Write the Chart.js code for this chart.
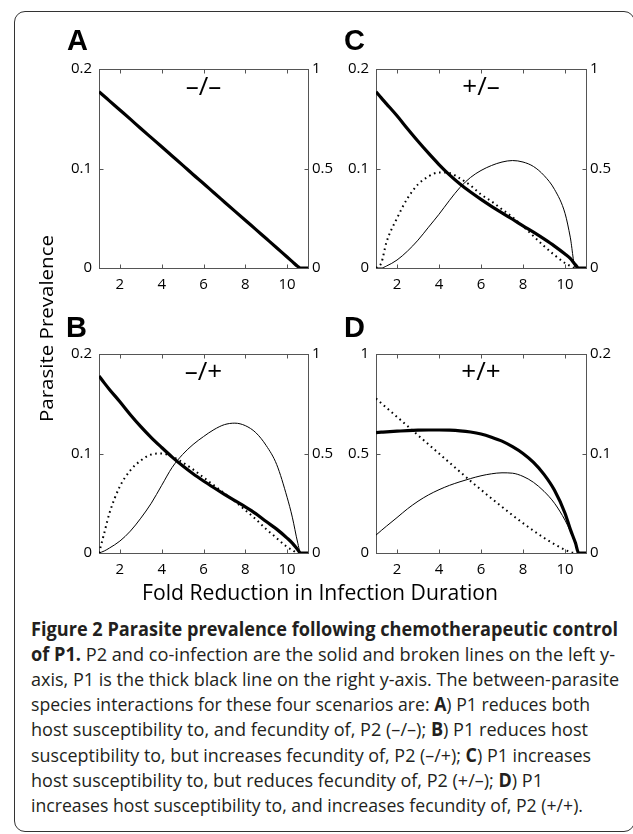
<!DOCTYPE html>
<html><head><meta charset="utf-8">
<script src="https://cdn.jsdelivr.net/npm/chart.js@4.4.1/dist/chart.umd.min.js"></script>
<style>
html,body{margin:0;padding:0;background:#fff;width:633px;height:834px;overflow:hidden;}
#page{position:relative;width:633px;height:834px;overflow:hidden;background:#fff;}
canvas{position:absolute;}
.frame{position:absolute;left:14px;top:11px;width:621px;height:821px;border:1.3px solid #333;border-radius:11px;box-sizing:border-box;}
.letter{position:absolute;font-family:"Liberation Sans",Arial,sans-serif;font-weight:bold;font-size:29px;line-height:29px;color:#000;}
.fit{position:absolute;white-space:nowrap;transform-origin:0 0;font-family:"Open Sans",sans-serif;color:#231f20;}
.cap{font-size:19px;line-height:25px;left:31px;}
b{font-weight:700;}
</style></head>
<body>
<div id="page">
  <div class="frame"></div>
  <canvas id="cA" width="309" height="245" style="left:49px;top:53px"></canvas>
  <canvas id="cC" width="310" height="245" style="left:326px;top:53px"></canvas>
  <canvas id="cB" width="309" height="245" style="left:49px;top:338px"></canvas>
  <canvas id="cD" width="310" height="245" style="left:326px;top:338px"></canvas>
  <div class="letter" style="left:67px;top:26px">A</div>
  <div class="letter" style="left:344px;top:26px">C</div>
  <div class="letter" style="left:66px;top:313px">B</div>
  <div class="letter" style="left:344px;top:313px">D</div>
  <div id="ytitle" class="fit" style="left:0;top:0;font-size:19px;line-height:19px;color:#000">Parasite Prevalence</div>
  <div id="xtitle" class="fit" style="left:142px;top:582px;font-size:21px;line-height:21px;color:#000">Fold Reduction in Infection Duration</div>
  <div class="fit cap" data-w="587"><b>Figure 2 Parasite prevalence following chemotherapeutic control</b></div>
  <div class="fit cap" data-w="584"><b>of P1.</b> P2 and co-infection are the solid and broken lines on the left y-</div>
  <div class="fit cap" data-w="588">axis, P1 is the thick black line on the right y-axis. The between-parasite</div>
  <div class="fit cap" data-w="559">species interactions for these four scenarios are: <b>A</b>) P1 reduces both</div>
  <div class="fit cap" data-w="557">host susceptibility to, and fecundity of, P2 (–/–); <b>B</b>) P1 reduces host</div>
  <div class="fit cap" data-w="560">susceptibility to, but increases fecundity of, P2 (–/+); <b>C</b>) P1 increases</div>
  <div class="fit cap" data-w="512">host susceptibility to, but reduces fecundity of, P2 (+/–); <b>D</b>) P1</div>
  <div class="fit cap" data-w="552">increases host susceptibility to, and increases fecundity of, P2 (+/+).</div>
</div>
<script>
// Fold reduction in infection duration (x)
const xValues = [1, 1.25, 1.5, 2, 2.5, 3, 3.5, 4, 4.5, 5, 5.5, 6, 6.5, 7, 7.5, 8, 8.5, 9, 9.5, 10, 10.25, 10.5, 10.65, 11];
const xTickValues = [2, 4, 6, 8, 10];
const ticksSmall = [0, 0.1, 0.2];
const ticksLarge = [0, 0.5, 1];
const panelTitles = {A: '–/–', B: '–/+', C: '+/–', D: '+/+'};

// Panel A (-/-): P1 on right axis (0-1)
const A_P1 = [0.886, 0.863, 0.840, 0.794, 0.748, 0.701, 0.655, 0.609, 0.563, 0.517, 0.470, 0.425, 0.378, 0.332, 0.286, 0.240, 0.194, 0.148, 0.102, 0.055, 0.032, 0.009, 0, 0];

// Panel B (-/+): P2, co-infection on left axis (0-0.2), P1 on right axis (0-1)
const B_P1 = [0.89, 0.855, 0.822, 0.76, 0.695, 0.635, 0.58, 0.53, 0.482, 0.438, 0.398, 0.362, 0.328, 0.295, 0.263, 0.232, 0.198, 0.158, 0.12, 0.075, 0.05, 0.018, 0, 0];
const B_P2 = [0, 0.002, 0.005, 0.012, 0.022, 0.035, 0.05, 0.068, 0.086, 0.099, 0.109, 0.117, 0.124, 0.129, 0.1305, 0.128, 0.121, 0.108, 0.089, 0.056, 0.036, 0.011, 0, 0];
const B_CO = [0, 0.02, 0.04, 0.067, 0.083, 0.093, 0.099, 0.1, 0.097, 0.091, 0.084, 0.076, 0.068, 0.06, 0.052, 0.043, 0.034, 0.024, 0.015, 0.006, 0.003, 0, 0, 0];

// Panel C (+/-)
const C_P1 = [0.886, 0.855, 0.825, 0.765, 0.70, 0.637, 0.577, 0.52, 0.468, 0.422, 0.382, 0.345, 0.31, 0.277, 0.245, 0.212, 0.18, 0.146, 0.11, 0.07, 0.048, 0.016, 0, 0];
const C_P2 = [0, 0, 0.002, 0.008, 0.017, 0.028, 0.041, 0.054, 0.068, 0.081, 0.091, 0.098, 0.103, 0.1065, 0.108, 0.1065, 0.102, 0.093, 0.079, 0.055, 0.031, 0, 0, 0];
const C_CO = [0, 0.005, 0.026, 0.05, 0.07, 0.084, 0.092, 0.096, 0.0955, 0.09, 0.083, 0.074, 0.067, 0.059, 0.051, 0.042, 0.032, 0.022, 0.013, 0.005, 0.002, 0, 0, 0];

// Panel D (+/+): P2, co-infection on left axis (0-1), P1 on right axis (0-0.2)
const D_P1 = [0.121, 0.1214, 0.1218, 0.1224, 0.123, 0.1234, 0.1236, 0.1236, 0.1234, 0.1228, 0.1216, 0.1196, 0.1164, 0.1124, 0.1068, 0.1, 0.091, 0.079, 0.063, 0.04, 0.024, 0.01, 0, 0];
const D_P2 = [0.09, 0.113, 0.135, 0.178, 0.222, 0.26, 0.292, 0.318, 0.34, 0.358, 0.374, 0.388, 0.398, 0.403, 0.401, 0.385, 0.355, 0.31, 0.25, 0.165, 0.11, 0.045, 0, 0];
const D_CO = [0.776, 0.753, 0.73, 0.684, 0.638, 0.592, 0.546, 0.5, 0.454, 0.408, 0.362, 0.318, 0.274, 0.232, 0.19, 0.15, 0.112, 0.076, 0.044, 0.016, 0.005, 0, 0, 0];

const pts = arr => xValues.map((x, i) => ({x: x, y: arr[i]}));

const boxPlugin = {
  id: 'box',
  beforeDatasetsDraw(chart, args, opts) {
    const ctx = chart.ctx, a = chart.chartArea, s = chart.scales;
    ctx.save();
    ctx.strokeStyle = '#555'; ctx.lineWidth = 1;
    const l = Math.round(a.left) + 0.5, t = Math.round(a.top) + 0.5, r = Math.round(a.right) + 0.5, b = Math.round(a.bottom) + 0.5;
    ctx.strokeRect(l, t, r - l, b - t);
    const L = 4;
    ctx.beginPath();
    s.x.ticks.forEach(k => { const p = Math.round(s.x.getPixelForValue(k.value)) + 0.5; ctx.moveTo(p, b); ctx.lineTo(p, b - L); ctx.moveTo(p, t); ctx.lineTo(p, t + L); });
    s.y.ticks.forEach(k => { const p = Math.round(s.y.getPixelForValue(k.value)) + 0.5; ctx.moveTo(l, p); ctx.lineTo(l + L, p); });
    s.y1.ticks.forEach(k => { const p = Math.round(s.y1.getPixelForValue(k.value)) + 0.5; ctx.moveTo(r, p); ctx.lineTo(r - L, p); });
    ctx.stroke();
    ctx.fillStyle = '#000';
    ctx.font = '26px "Open Sans", sans-serif';
    ctx.textAlign = 'center'; ctx.textBaseline = 'alphabetic';
    ctx.fillText(opts.title, (a.left + a.right) / 2, a.top + 26);
    ctx.restore();
  }
};

const tickFont = {family: '"Open Sans", sans-serif', size: 15};

function makePanel(id, title, leftTicks, rightTicks, series) {
  const ds = [];
  ds.push({label: 'P1', data: pts(series.p1), yAxisID: 'y1', borderColor: '#000', borderWidth: 3.2});
  if (series.p2) ds.push({label: 'P2', data: pts(series.p2), yAxisID: 'y', borderColor: '#000', borderWidth: 1});
  if (series.co) ds.push({label: 'Co-infection', data: pts(series.co), yAxisID: 'y', borderColor: '#000', borderWidth: 2, borderDash: [1.6, 3.6], borderCapStyle: 'butt'});
  const setTicks = arr => (scale => { scale.ticks = arr.map(v => ({value: v})); });
  const gridOpts = {display: false, drawTicks: false, tickLength: 0};
  new Chart(document.getElementById(id), {
    type: 'line',
    data: {datasets: ds},
    options: {
      responsive: false, animation: false, devicePixelRatio: 1,
      layout: {autoPadding: false, padding: {top: 10, left: 0, right: 0, bottom: 0}},
      elements: {point: {radius: 0}, line: {cubicInterpolationMode: 'monotone', fill: false}},
      plugins: {legend: {display: false}, tooltip: {enabled: false}, box: {title: title}},
      scales: {
        x: {type: 'linear', min: 1, max: 11, grid: gridOpts, border: {display: false},
            afterBuildTicks: setTicks(xTickValues),
            afterFit: sc => { sc.height = 30; },
            ticks: {font: tickFont, color: '#000', padding: 8, maxRotation: 0, autoSkip: false, callback: v => String(v)}},
        y: {type: 'linear', position: 'left', min: leftTicks[0], max: leftTicks[leftTicks.length - 1],
            grid: gridOpts, border: {display: false},
            afterBuildTicks: setTicks(leftTicks),
            afterFit: sc => { sc.width = 50; },
            ticks: {font: tickFont, color: '#000', padding: 7, autoSkip: false, callback: v => String(v)}},
        y1: {type: 'linear', position: 'right', min: rightTicks[0], max: rightTicks[rightTicks.length - 1],
            grid: gridOpts, border: {display: false},
            afterBuildTicks: setTicks(rightTicks),
            afterFit: sc => { sc.width = 50; },
            ticks: {font: tickFont, color: '#000', padding: 4, autoSkip: false, callback: v => String(v)}}
      }
    },
    plugins: [boxPlugin]
  });
}

makePanel('cA', panelTitles.A, ticksSmall, ticksLarge, {p1: A_P1});
makePanel('cB', panelTitles.B, ticksSmall, ticksLarge, {p1: B_P1, p2: B_P2, co: B_CO});
makePanel('cC', panelTitles.C, ticksSmall, ticksLarge, {p1: C_P1, p2: C_P2, co: C_CO});
makePanel('cD', panelTitles.D, ticksLarge, ticksSmall, {p1: D_P1, p2: D_P2, co: D_CO});

function layoutText() {
  document.querySelectorAll('.cap').forEach((el, i) => {
    el.style.top = (617 + i * 25.1) + 'px';
    el.style.transform = 'none';
    const w = el.getBoundingClientRect().width;
    el.style.transform = 'scaleX(' + (parseFloat(el.dataset.w) / w) + ')';
  });
  const xt = document.getElementById('xtitle');
  xt.style.transform = 'none';
  xt.style.transform = 'scaleX(' + (356 / xt.getBoundingClientRect().width) + ')';
  const yt = document.getElementById('ytitle');
  yt.style.transform = 'none';
  const r = yt.getBoundingClientRect();
  yt.style.transform = 'translate(46.5px, 328.5px) rotate(-90deg) scale(' + (187 / r.width) + ',1) translate(' + (-r.width / 2) + 'px,' + (-r.height / 2) + 'px)';
}
layoutText();
if (document.fonts && document.fonts.ready) document.fonts.ready.then(layoutText);
</script>
</body></html>
